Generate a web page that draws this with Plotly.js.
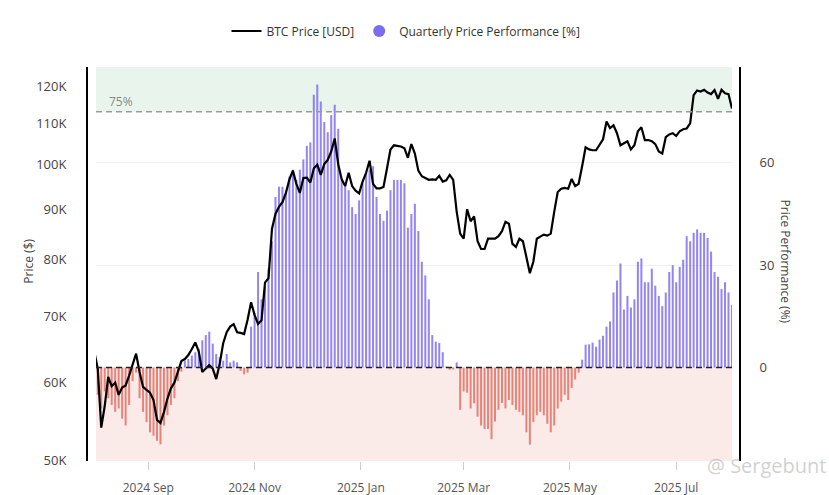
<!DOCTYPE html>
<html>
<head>
<meta charset="utf-8">
<script src="https://cdn.plot.ly/plotly-3.0.1.min.js"></script>
<style>html,body{margin:0;padding:0;background:#fff;}#chart{width:829px;height:495px;}</style>
</head>
<body>
<div id="chart"></div>
<script>
// ---- Data ----
// Sampling: every 2 days starting 2024-08-01
const START_DATE = '2024-08-01';
const STEP_DAYS = 2;

// BTC price in thousands of USD
const BTC_PRICE_K = [
  64.5, 62.0, 54.0, 56.8, 60.8, 59.5, 60.0, 58.3, 59.3, 59.6,
  61.0, 62.5, 64.2, 61.5, 59.4, 59.0, 58.6, 57.6, 55.0, 54.6,
  56.0, 57.8, 59.2, 60.0, 61.7, 63.1, 63.4, 64.0, 64.9, 65.9,
  64.5, 61.5, 62.0, 62.5, 62.0, 60.5, 62.7, 65.8, 67.5, 68.4,
  68.8, 67.5, 67.4, 67.2, 69.5, 72.4, 70.3, 68.8, 69.4, 75.8,
  76.6, 86.0, 89.0, 90.5, 91.5, 93.5, 96.5, 98.5, 95.5, 93.5,
  96.8, 96.9, 95.8, 99.0, 99.9, 97.5, 100.0, 101.0, 103.0, 106.2,
  100.0, 96.5, 95.0, 98.0, 95.0, 94.0, 93.4, 96.0, 98.0, 100.8,
  95.5, 94.5, 94.5, 94.8, 99.0, 103.5, 104.5, 104.3, 104.2, 103.8,
  101.5, 104.8, 102.5, 98.5, 97.2, 96.8, 96.4, 96.5, 96.4, 97.3,
  96.0, 96.3, 97.5, 96.4, 89.5, 85.0, 84.0, 90.0, 87.5, 88.5,
  83.5, 82.0, 82.0, 84.0, 84.0, 84.0, 84.5, 85.5, 87.4, 87.0,
  83.0, 82.4, 84.0, 83.5, 80.5, 77.5, 79.6, 84.0, 84.4, 84.8,
  84.6, 85.0, 89.5, 93.7, 94.4, 94.6, 94.4, 96.6, 95.0, 95.5,
  99.5, 104.0, 103.5, 103.3, 103.3, 104.5, 106.0, 110.5, 108.8, 109.5,
  107.5, 104.5, 105.0, 105.5, 103.5, 104.5, 108.0, 109.0, 105.8, 105.8,
  105.5, 104.8, 103.0, 102.5, 106.5, 107.2, 107.5, 106.8, 108.0, 108.5,
  108.7, 110.0, 117.5, 118.8, 118.5, 119.0, 118.2, 117.8, 118.9, 116.5,
  119.0, 118.0, 117.8, 113.9
];

// Quarterly price performance in %
const QUARTERLY_PERF = [
  -4, -8, -12, -7, -9, -11, -13, -12, -15, -17,
  -11, -4, -1.5, -9, -13, -16, -19, -20, -21.5, -22.5,
  -17, -14, -11, -9, -4, -1.2, 2, 2.5, 3.5, 4.5,
  5.5, 8, 9.5, 10.5, 7, 4, 3, 2, 4, 1.5,
  2, 1.5, -1, -2, -1.5, 12, 16, 28, 20, 24,
  29, 37, 50, 53, 53, 52, 56, 58, 55, 58,
  61, 65, 66, 80, 83, 78, 72, 69, 74, 77,
  70, 55, 54, 52, 47, 45, 49, 54, 57, 58,
  59, 50, 45, 43, 46, 52, 55, 55, 55, 54,
  41, 45, 48, 40, 31, 27, 20, 9.5, 7.6, 7.2,
  4.5, 0.3, -0.6, -0.6, 1.5, -12.4, -7, -7.4, -12, -10.5,
  -14.4, -17, -18, -18, -21, -15.8, -12.4, -10.4, -12, -9.5,
  -11, -12.4, -13, -14, -19, -22.6, -16, -14, -13, -14,
  -16.5, -19, -17, -12, -10, -8, -9.5, -6, -3.5, -1.5,
  2.3, 6.7, 6.8, 7.3, 6.1, 8.2, 9.3, 12, 13.5, 22,
  25.5, 30.5, 17, 21, 17.6, 20, 31, 32, 25, 25,
  29, 24, 21, 18, 22, 28, 30, 25, 29.5, 31.6,
  38.5, 37, 39.5, 40.5, 39.5, 39.5, 38, 34, 28, 26.6,
  23, 25, 22, 18.4
];

const X_TICK_DATES = ['2024-09-01', '2024-11-01', '2025-01-01', '2025-03-01', '2025-05-01', '2025-07-01'];
const PRICE_TICKS = [50, 60, 70, 80, 90, 100, 110, 120];
const PRICE_TICK_LABELS = ['50K', '60K', '70K', '80K', '90K', '100K', '110K', '120K'];
const PERF_TICKS = [0, 30, 60];
const THRESHOLD = 75;

// ---- Build ----
const t0 = Date.parse(START_DATE + 'T00:00:00Z');
const dates = BTC_PRICE_K.map((_, i) => new Date(t0 + i * STEP_DAYS * 86400000).toISOString().slice(0, 10));

const PURPLE = 'rgba(112,92,240,0.75)';
const RED = 'rgba(222,78,66,0.66)';

const barTrace = {
  type: 'bar', x: dates, y: QUARTERLY_PERF, xaxis: 'x', yaxis: 'y',
  marker: { color: QUARTERLY_PERF.map(v => v >= 0 ? PURPLE : RED), line: { width: 0 } },
  showlegend: false, hoverinfo: 'skip'
};
const lineTrace = {
  type: 'scatter', mode: 'lines', x: dates, y: BTC_PRICE_K, xaxis: 'x', yaxis: 'y2',
  name: 'BTC Price [USD]', line: { color: '#000', width: 2.2 }
};
const legendDot = {
  type: 'scatter', mode: 'markers', x: [null], y: [null], xaxis: 'x', yaxis: 'y',
  name: 'Quarterly Price Performance [%]', marker: { color: '#7b6cf0', size: 12, symbol: 'circle' }
};

const layout = {
  width: 829, height: 495,
  margin: { l: 87, r: 89, t: 67, b: 34 },
  paper_bgcolor: '#fff', plot_bgcolor: '#fff',
  font: { family: 'Open Sans, sans-serif', color: '#444', size: 12 },
  bargap: 0.42,
  showlegend: true,
  legend: {
    orientation: 'h', x: 0.4885, xanchor: 'center', y: 1.0914, yanchor: 'middle',
    font: { size: 12, color: '#333' }, traceorder: 'normal', bgcolor: 'rgba(0,0,0,0)'
  },
  xaxis: {
    type: 'date', domain: [0.0138, 0.9877], range: ['2024-08-02', '2025-08-02'],
    tickvals: X_TICK_DATES, tickformat: '%Y %b',
    ticks: 'outside', ticklen: 8, tickcolor: '#ccc', tickwidth: 1,
    ticklabelstandoff: 8,
    tickfont: { size: 12, color: '#555' },
    showgrid: false, zeroline: false, showline: false, anchor: 'y'
  },
  yaxis: {
    anchor: 'free', position: 1, side: 'right',
    range: [-27.4, 88.1], tickvals: PERF_TICKS, ticktext: PERF_TICKS.map(String),
    showgrid: true, gridcolor: '#f0f0f0', zeroline: false,
    showline: true, linecolor: '#000', linewidth: 2,
    ticks: '', ticklabelstandoff: 16, tickfont: { size: 13, color: '#444' }
  },
  yaxis2: {
    overlaying: 'y', anchor: 'free', position: 0, side: 'left', type: 'log',
    range: [Math.log10(49.95), Math.log10(125.5)],
    tickvals: PRICE_TICKS, ticktext: PRICE_TICK_LABELS,
    showgrid: false, zeroline: false,
    showline: true, linecolor: '#000', linewidth: 2,
    ticks: '', ticklabelstandoff: 17, tickfont: { size: 13, color: '#444' }
  },
  shapes: [
    { type: 'rect', xref: 'x domain', x0: 0, x1: 1, yref: 'y', y0: THRESHOLD, y1: 88.1,
      fillcolor: '#e9f5ec', line: { width: 0 }, layer: 'below' },
    { type: 'rect', xref: 'x domain', x0: 0, x1: 1, yref: 'y', y0: -27.4, y1: 0,
      fillcolor: '#fbebe8', line: { width: 0 }, layer: 'below' },
    { type: 'line', xref: 'x domain', x0: 0, x1: 1, yref: 'y', y0: 0, y1: 0,
      line: { color: '#222', width: 1.6, dash: '6px,4px' }, layer: 'above' },
    { type: 'line', xref: 'x domain', x0: 0, x1: 1, yref: 'y', y0: THRESHOLD, y1: THRESHOLD,
      line: { color: '#999', width: 1.5, dash: '6px,4px' }, layer: 'above' }
  ],
  annotations: [
    { text: '75%', xref: 'x domain', x: 0.017, yref: 'y', y: THRESHOLD, xanchor: 'left', yanchor: 'bottom',
      showarrow: false, font: { size: 12, color: '#888' } },
    { text: 'Price ($)', xref: 'paper', x: -0.0888, yref: 'paper', y: 0.506, textangle: -90,
      xanchor: 'center', yanchor: 'middle',
      showarrow: false, font: { size: 12, color: '#444' } },
    { text: 'Price Performance (%)', xref: 'paper', x: 1.069, yref: 'paper', y: 0.506, textangle: 90,
      xanchor: 'center', yanchor: 'middle',
      showarrow: false, font: { size: 12, color: '#444' } },
    { text: '@ Sergebunt', xref: 'paper', x: 1.04, yref: 'paper', y: -0.012, xanchor: 'center', yanchor: 'middle',
      showarrow: false, font: { size: 20, color: 'rgba(150,150,150,0.45)' } }
  ]
};

Plotly.newPlot('chart', [barTrace, lineTrace, legendDot], layout, { displayModeBar: false, staticPlot: true });
</script>
</body>
</html>
